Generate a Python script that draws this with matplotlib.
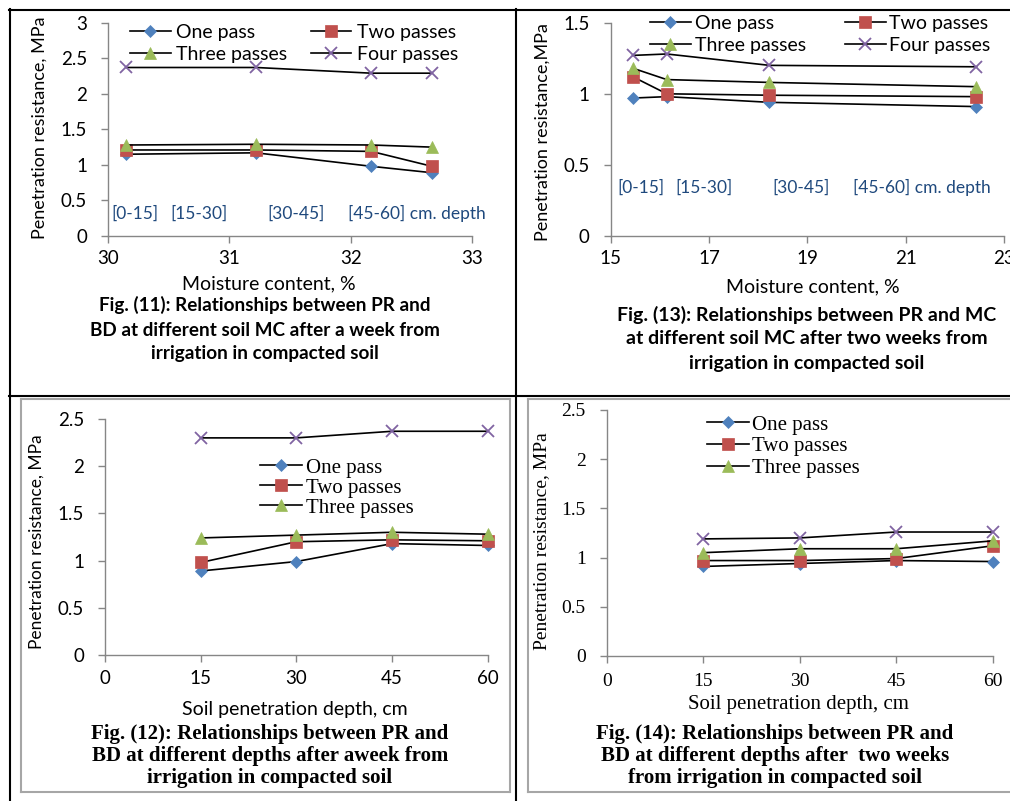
import matplotlib
matplotlib.use("Agg")
import matplotlib.pyplot as plt
from matplotlib.lines import Line2D

# ---------------- data ----------------
series_names = ["One pass", "Two passes", "Three passes", "Four passes"]

# Fig 11: PR vs MC after a week
mc_week = [30.15, 31.22, 32.17, 32.67]
week_mc_one = [1.15, 1.17, 0.98, 0.89]
week_mc_two = [1.21, 1.21, 1.19, 0.98]
week_mc_three = [1.28, 1.29, 1.28, 1.25]
week_mc_four = [2.37, 2.37, 2.29, 2.29]

# Fig 13: PR vs MC after two weeks
mc_two_weeks = [15.45, 16.14, 18.23, 22.44]
twow_mc_one = [0.97, 0.98, 0.94, 0.91]
twow_mc_two = [1.12, 1.00, 0.99, 0.98]
twow_mc_three = [1.18, 1.10, 1.08, 1.05]
twow_mc_four = [1.27, 1.28, 1.20, 1.19]

# Fig 12: PR vs depth after a week
depth = [15, 30, 45, 60]
week_d_one = [0.89, 0.99, 1.18, 1.16]
week_d_two = [0.98, 1.20, 1.22, 1.21]
week_d_three = [1.24, 1.27, 1.30, 1.28]
week_d_four = [2.30, 2.30, 2.37, 2.37]

# Fig 14: PR vs depth after two weeks
twow_d_one = [0.91, 0.94, 0.97, 0.96]
twow_d_two = [0.97, 0.97, 0.99, 1.12]
twow_d_three = [1.05, 1.09, 1.09, 1.17]
twow_d_four = [1.19, 1.20, 1.26, 1.26]

depth_labels = ["[0-15]", "[15-30]", "[30-45]", "[45-60] cm. depth"]
depth_label_x_week = [30.03, 30.51, 31.31, 31.98]
depth_label_x_twow = [15.13, 16.32, 18.29, 19.93]

# ---------------- styling ----------------
W, H = 1010, 801
markers = ["D", "s", "^", "x"]
mcolors = ["#4F81BD", "#C0504D", "#9BBB59", "#8064A2"]
msizes = [6, 8, 8, 8]
SANS = "Lato"
SERIF = "Liberation Serif"
AXIS_GREY = "#868686"
LABEL_BLUE = "#1F497D"

def fx(x):
    return x / W

def fy(y):
    return 1 - y / H

fig = plt.figure(figsize=(W / 100, H / 100), dpi=100)
fig.patch.set_facecolor("white")


def make_axes(l, r, t, b):
    return fig.add_axes([fx(l), fy(b), fx(r) - fx(l), (b - t) / H])


def style_axes(ax, family, fs):
    for s in ["top", "right"]:
        ax.spines[s].set_visible(False)
    for s in ["left", "bottom"]:
        ax.spines[s].set_color(AXIS_GREY)
        ax.spines[s].set_linewidth(1.0)
    ax.tick_params(direction="out", length=5, width=1.0, color=AXIS_GREY,
                   labelsize=fs, labelcolor="black")
    for lab in ax.get_xticklabels() + ax.get_yticklabels():
        lab.set_family(family)
    ax.patch.set_alpha(0)


def plot_series(ax, x, ys, n):
    handles = []
    for i in range(n):
        mew = 1.3 if markers[i] == "x" else 0.5
        h, = ax.plot(x, ys[i], color="black", lw=1.2, marker=markers[i],
                     markersize=msizes[i], markerfacecolor=mcolors[i],
                     markeredgecolor=mcolors[i], markeredgewidth=mew,
                     clip_on=False, zorder=3)
        handles.append(h)
    return handles


def fmt(v):
    return ("%g" % v)


def legend_rowwise(ax, handles, names, left, top, fam, size, hl, hp, cs, ls):
    # matplotlib fills legend columns first; reorder so rows read One/Two, Three/Four
    order = [0, 2, 1, 3]
    ax.legend([handles[i] for i in order], [names[i] for i in order], ncol=2,
              loc="upper left", frameon=False,
              bbox_to_anchor=(fx(left), fy(top)), bbox_transform=fig.transFigure,
              prop={"family": fam, "size": size}, handlelength=hl,
              handletextpad=hp, columnspacing=cs, labelspacing=ls,
              borderpad=0, borderaxespad=0)


# ---------- Panel 1 (Fig 11) ----------
ax1 = make_axes(108, 472, 22.7, 236)
h1 = plot_series(ax1, mc_week, [week_mc_one, week_mc_two, week_mc_three, week_mc_four], 4)
ax1.set_xlim(30, 33)
ax1.set_ylim(0, 3)
ax1.set_xticks([30, 31, 32, 33])
ax1.set_yticks([0, 0.5, 1, 1.5, 2, 2.5, 3])
ax1.set_yticklabels([fmt(v) for v in [0, 0.5, 1, 1.5, 2, 2.5, 3]])
style_axes(ax1, SANS, 13.5)
ax1.tick_params(axis="x", pad=5)
ax1.tick_params(axis="y", pad=10)
for lx, lt in zip(depth_label_x_week, depth_labels):
    ax1.text(lx, 0.32, lt, family=SANS, fontsize=12.5, color=LABEL_BLUE,
             va="center", ha="left")
legend_rowwise(ax1, h1, series_names, 130, 24, SANS, 14, 2.1, 0.27, 1.2, 0.25)
fig.text(fx(40), fy(128), "Penetration resistance, MPa", rotation=90,
         ha="center", va="center", family=SANS, fontsize=13)
fig.text(fx(269), fy(284), "Moisture content, %", ha="center", va="center",
         family=SANS, fontsize=14)
for yy, line in zip([305, 330, 353],
                    ["Fig. (11): Relationships between PR and",
                     "BD at different soil MC after a week from",
                     "irrigation in compacted soil"]):
    fig.text(fx(265), fy(yy), line, ha="center", va="center", family=SANS,
             fontsize=13.6, fontweight="bold")

# ---------- Panel 2 (Fig 13) ----------
ax2 = make_axes(610.7, 1004, 22.7, 236)
h2 = plot_series(ax2, mc_two_weeks, [twow_mc_one, twow_mc_two, twow_mc_three, twow_mc_four], 4)
ax2.set_xlim(15, 23)
ax2.set_ylim(0, 1.5)
ax2.set_xticks([15, 17, 19, 21, 23])
ax2.set_yticks([0, 0.5, 1, 1.5])
ax2.set_yticklabels([fmt(v) for v in [0, 0.5, 1, 1.5]])
style_axes(ax2, SANS, 13.5)
ax2.tick_params(axis="x", pad=5)
ax2.tick_params(axis="y", pad=10)
for lx, lt in zip(depth_label_x_twow, depth_labels):
    ax2.text(lx, 0.34, lt, family=SANS, fontsize=12.5, color=LABEL_BLUE,
             va="center", ha="left")
legend_rowwise(ax2, h2, series_names, 650, 15, SANS, 14, 2.1, 0.2, 2.0, 0.25)
fig.text(fx(543), fy(132), "Penetration resistance,MPa", rotation=90,
         ha="center", va="center", family=SANS, fontsize=13)
fig.text(fx(813), fy(287), "Moisture content, %", ha="center", va="center",
         family=SANS, fontsize=14)
for yy, line in zip([315, 339, 363],
                    ["Fig. (13): Relationships between PR and MC",
                     "at different soil MC after two weeks from",
                     "irrigation in compacted soil"]):
    fig.text(fx(807), fy(yy), line, ha="center", va="center", family=SANS,
             fontsize=14, fontweight="bold")

# ---------- Panel 3 (Fig 12) ----------
ax3 = make_axes(105, 487.7, 419, 655)
h3 = plot_series(ax3, depth, [week_d_one, week_d_two, week_d_three, week_d_four], 4)
ax3.set_xlim(0, 60)
ax3.set_ylim(0, 2.5)
ax3.set_xticks([0, 15, 30, 45, 60])
ax3.set_yticks([0, 0.5, 1, 1.5, 2, 2.5])
ax3.set_yticklabels([fmt(v) for v in [0, 0.5, 1, 1.5, 2, 2.5]])
style_axes(ax3, SANS, 13.5)
ax3.tick_params(axis="x", pad=6)
ax3.tick_params(axis="y", pad=10)
ax3.legend(h3[:3], series_names[:3], loc="upper left", frameon=False,
           bbox_to_anchor=(fx(260), fy(458)), bbox_transform=fig.transFigure,
           prop={"family": SERIF, "size": 15}, handlelength=2.0,
           handletextpad=0.2, labelspacing=0.02, borderpad=0, borderaxespad=0)
fig.text(fx(37), fy(542), "Penetration resistance, MPa", rotation=90,
         ha="center", va="center", family=SANS, fontsize=12.5)
fig.text(fx(295), fy(710), "Soil penetration depth, cm", ha="center",
         va="center", family=SANS, fontsize=14)
for yy, line in zip([734, 756, 778],
                    ["Fig. (12): Relationships between PR and",
                     "BD at different depths after aweek from",
                     "irrigation in compacted soil"]):
    fig.text(fx(270), fy(yy), line, ha="center", va="center", family=SERIF,
             fontsize=15, fontweight="bold")

# ---------- Panel 4 (Fig 14) ----------
ax4 = make_axes(606.7, 992.7, 410, 656)
h4 = plot_series(ax4, depth, [twow_d_one, twow_d_two, twow_d_three, twow_d_four], 4)
ax4.set_xlim(0, 60)
ax4.set_ylim(0, 2.5)
ax4.set_xticks([0, 15, 30, 45, 60])
ax4.set_yticks([0, 0.5, 1, 1.5, 2, 2.5])
ax4.set_yticklabels([fmt(v) for v in [0, 0.5, 1, 1.5, 2, 2.5]])
style_axes(ax4, SERIF, 14)
ax4.tick_params(axis="x", pad=7)
ax4.tick_params(axis="y", pad=10)
ax4.legend(h4[:3], series_names[:3], loc="upper left", frameon=False,
           bbox_to_anchor=(fx(707), fy(415)), bbox_transform=fig.transFigure,
           prop={"family": SERIF, "size": 15}, handlelength=2.0,
           handletextpad=0.15, labelspacing=0.1, borderpad=0, borderaxespad=0)
fig.text(fx(542), fy(541), "Penetration resistance, MPa", rotation=90,
         ha="center", va="center", family=SERIF, fontsize=14)
fig.text(fx(798), fy(705), "Soil penetration depth, cm", ha="center",
         va="center", family=SERIF, fontsize=15)
for yy, line in zip([734, 756, 778],
                    ["Fig. (14): Relationships between PR and",
                     "BD at different depths after  two weeks",
                     "from irrigation in compacted soil"]):
    fig.text(fx(775), fy(yy), line, ha="center", va="center", family=SERIF,
             fontsize=15, fontweight="bold")

# ---------- frame lines ----------
def fline(x0, y0, x1, y1, color="black", lw=1.5):
    fig.add_artist(Line2D([fx(x0), fx(x1)], [fy(y0), fy(y1)], color=color,
                          lw=lw, transform=fig.transFigure))

fline(9, 9.5, 1010, 9.5)          # top border
fline(9.5, 9, 9.5, 801)           # left border
fline(515.5, 9, 515.5, 801)       # middle divider
fline(9, 396, 1010, 396)          # horizontal divider
# grey inner boxes of bottom panels
G = "#A6A6A6"
fline(21, 398.5, 510, 398.5, G, 1.5)
fline(21, 398.5, 21, 792, G, 1.5)
fline(21, 792, 510, 792, G, 1.5)
fline(510, 398.5, 510, 792, G, 1.5)
fline(527.5, 398.5, 1010, 398.5, G, 1.5)
fline(527.5, 398.5, 527.5, 792, G, 1.5)
fline(527.5, 792, 1010, 792, G, 1.5)

fig.savefig("out.png", dpi=100)
